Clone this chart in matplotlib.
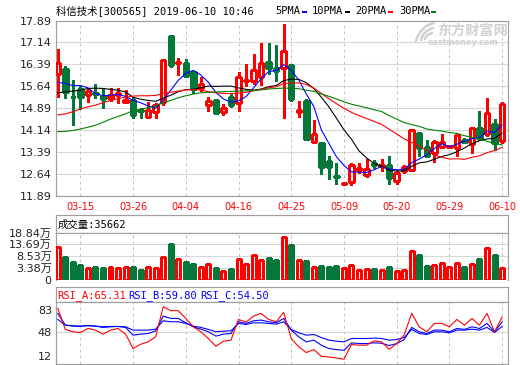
import matplotlib
matplotlib.use("Agg")
import matplotlib.pyplot as plt
import matplotlib.transforms as mtransforms
from matplotlib.patches import Rectangle, PathPatch
from matplotlib.path import Path

# ------------------------------------------------------------------ data
title_text = "科信技术[300565] 2019-06-10 10:46"
volume_title = "成交量:35662"
rsi_titles = ["RSI_A:65.31", "RSI_B:59.80", "RSI_C:54.50"]
ma_names = ["5PMA", "10PMA", "20PMA", "30PMA"]

dates = ["03-12", "03-13", "03-14", "03-15", "03-18", "03-19", "03-20", "03-21", "03-22", "03-25",
         "03-26", "03-27", "03-28", "03-29", "04-01", "04-02", "04-03", "04-04", "04-08", "04-09",
         "04-10", "04-11", "04-12", "04-15", "04-16", "04-17", "04-18", "04-19", "04-22", "04-23",
         "04-24", "04-25", "04-26", "04-29", "04-30", "05-06", "05-07", "05-08", "05-09", "05-10",
         "05-13", "05-14", "05-15", "05-16", "05-17", "05-20", "05-21", "05-22", "05-23", "05-24",
         "05-27", "05-28", "05-29", "05-30", "05-31", "06-03", "06-04", "06-05", "06-06", "06-10"]
date_ticks = ["03-15", "03-26", "04-04", "04-16", "04-25", "05-09", "05-20", "05-29", "06-10"]

opens = [16.04, 16.22, 15.28, 15.53, 15.33, 15.41, 15.30, 15.25, 15.33, 15.10,
         15.18, 14.81, 14.58, 14.76, 15.08, 17.35, 16.45, 16.43, 16.11, 15.59,
         14.99, 15.16, 14.77, 15.28, 15.05, 15.81, 15.82, 15.94, 16.47, 16.26,
         16.25, 16.36, 14.77, 15.13, 13.73, 13.68, 13.07, 12.56, 12.27, 12.36,
         12.78, 12.61, 13.01, 12.89, 12.95, 12.40, 12.73, 12.75, 14.02, 13.55,
         13.36, 13.56, 13.55, 13.53, 13.80, 13.64, 14.19, 13.99, 14.33, 13.76]
highs = [16.90, 16.34, 15.84, 15.65, 15.59, 15.73, 15.59, 15.56, 15.56, 15.50,
         15.27, 14.88, 15.08, 15.07, 16.56, 17.37, 16.59, 16.57, 16.17, 15.97,
         15.28, 15.16, 15.02, 15.36, 16.12, 16.39, 16.74, 17.12, 17.12, 17.05,
         17.77, 16.36, 15.13, 15.19, 14.47, 13.68, 13.26, 12.99, 12.34, 12.99,
         13.01, 13.13, 13.10, 13.13, 13.26, 12.73, 12.92, 14.12, 14.02, 13.81,
         13.81, 13.99, 13.62, 13.99, 13.86, 14.25, 14.79, 15.25, 14.50, 15.08]
lows = [15.26, 15.25, 14.30, 14.87, 15.10, 15.24, 14.90, 15.13, 15.07, 15.07,
        14.56, 14.55, 14.57, 14.54, 15.00, 16.28, 16.02, 15.97, 15.40, 15.48,
        14.79, 14.67, 14.65, 14.94, 14.78, 15.65, 15.73, 15.68, 16.05, 15.82,
        14.54, 15.13, 14.59, 13.79, 13.68, 12.63, 12.44, 12.30, 12.26, 12.24,
        12.67, 12.52, 12.84, 12.73, 12.30, 12.29, 12.67, 12.73, 13.24, 13.22,
        13.03, 13.53, 13.52, 13.24, 13.70, 13.36, 13.81, 13.93, 13.45, 13.70]
closes = [16.45, 15.44, 15.26, 15.27, 15.48, 15.37, 15.19, 15.33, 15.40, 15.18,
          14.65, 14.78, 14.81, 15.00, 16.55, 16.37, 16.47, 15.99, 15.53, 15.73,
          15.13, 14.71, 14.90, 14.99, 15.97, 15.84, 16.19, 16.45, 16.26, 16.17,
          16.83, 15.19, 14.82, 13.84, 14.01, 12.86, 12.86, 12.54, 12.33, 12.93,
          12.83, 12.81, 12.95, 12.93, 12.50, 12.67, 12.86, 14.12, 13.53, 13.24,
          13.73, 13.73, 13.58, 13.95, 13.74, 14.19, 13.87, 14.73, 13.70, 15.04]

ma5 = [15.77, 15.74, 15.66, 15.66, 15.58, 15.38, 15.31, 15.33, 15.35, 15.29,
       15.15, 15.07, 14.96, 14.88, 15.16, 15.50, 15.84, 16.08, 16.18, 16.02,
       15.77, 15.42, 15.20, 15.09, 15.14, 15.28, 15.58, 15.89, 16.14, 16.18,
       16.38, 16.18, 15.85, 15.37, 14.94, 14.14, 13.68, 13.22, 12.92, 12.70,
       12.69, 12.68, 12.77, 12.89, 12.80, 12.77, 12.78, 13.02, 13.14, 13.28,
       13.50, 13.67, 13.56, 13.65, 13.75, 13.84, 13.87, 14.10, 14.05, 14.31]
ma10 = [15.41, 15.44, 15.47, 15.50, 15.56, 15.57, 15.56, 15.53, 15.50, 15.44,
        15.26, 15.19, 15.15, 15.12, 15.23, 15.33, 15.45, 15.52, 15.53, 15.59,
        15.64, 15.63, 15.64, 15.64, 15.58, 15.53, 15.50, 15.54, 15.62, 15.66,
        15.83, 15.88, 15.87, 15.76, 15.56, 15.26, 14.93, 14.54, 14.14, 13.82,
        13.42, 13.18, 12.99, 12.90, 12.75, 12.73, 12.73, 12.89, 13.01, 13.04,
        13.13, 13.23, 13.29, 13.39, 13.52, 13.67, 13.77, 13.83, 13.85, 14.03]
ma20 = [14.65, 14.69, 14.76, 14.86, 14.93, 14.99, 15.07, 15.15, 15.21, 15.26,
        15.30, 15.31, 15.31, 15.32, 15.40, 15.43, 15.47, 15.51, 15.52, 15.51,
        15.45, 15.41, 15.39, 15.38, 15.40, 15.43, 15.48, 15.53, 15.58, 15.62,
        15.73, 15.75, 15.75, 15.70, 15.57, 15.39, 15.21, 15.04, 14.88, 14.74,
        14.63, 14.53, 14.43, 14.33, 14.16, 14.00, 13.83, 13.71, 13.58, 13.43,
        13.28, 13.20, 13.14, 13.15, 13.13, 13.20, 13.25, 13.36, 13.43, 13.54]
ma30 = [14.08, 14.09, 14.12, 14.17, 14.23, 14.30, 14.40, 14.51, 14.60, 14.69,
        14.80, 14.85, 14.90, 14.96, 15.07, 15.15, 15.24, 15.31, 15.37, 15.41,
        15.43, 15.44, 15.45, 15.46, 15.47, 15.48, 15.49, 15.51, 15.54, 15.56,
        15.57, 15.57, 15.55, 15.50, 15.46, 15.37, 15.29, 15.20, 15.10, 15.02,
        14.96, 14.90, 14.83, 14.77, 14.63, 14.51, 14.39, 14.32, 14.26, 14.17,
        14.13, 14.10, 14.05, 14.02, 13.94, 13.89, 13.81, 13.75, 13.67, 13.63]

volume_wan = [12.48, 8.42, 6.24, 4.79, 3.34, 4.07, 3.63, 3.78, 3.49, 3.93,
              3.93, 2.62, 3.78, 3.49, 8.13, 13.93, 7.26, 6.10, 5.23, 3.78,
              5.23, 3.49, 2.18, 2.91, 7.26, 5.23, 9.00, 6.97, 7.98, 6.97,
              16.83, 13.49, 6.97, 6.53, 3.78, 4.36, 3.93, 4.36, 3.34, 4.65,
              2.62, 3.06, 3.06, 2.62, 3.93, 2.18, 2.62, 10.88, 9.14, 4.36,
              4.65, 5.52, 3.78, 5.52, 3.78, 5.08, 7.26, 12.04, 9.14, 3.57]

rsi_a = [75.4, 51.2, 48.5, 47.7, 52.3, 50.4, 45.8, 50.4, 52.3, 45.8,
         29.3, 34.2, 36.9, 42.7, 77.3, 72.7, 72.7, 63.8, 54.2, 48.5,
         40.8, 31.9, 37.7, 38.9, 62.7, 59.6, 66.5, 69.6, 62.7, 60.0,
         70.7, 40.8, 31.2, 24.7, 28.1, 20.4, 19.6, 18.5, 17.0, 33.9,
         33.1, 33.1, 38.1, 36.9, 28.5, 35.0, 45.0, 69.6, 54.2, 48.5,
         58.1, 58.1, 54.2, 62.7, 56.1, 63.8, 56.1, 69.6, 48.5, 65.31]
rsi_b = [69.6, 56.1, 55.0, 54.6, 55.8, 55.0, 53.5, 54.2, 54.6, 53.5,
         44.6, 45.8, 46.5, 49.6, 66.5, 63.8, 63.8, 58.8, 54.2, 51.5,
         48.5, 43.5, 45.8, 46.5, 60.0, 58.1, 61.1, 61.9, 60.0, 58.8,
         63.8, 50.4, 42.7, 36.9, 38.9, 33.1, 29.3, 28.1, 27.3, 35.8,
         35.0, 35.0, 35.8, 35.4, 32.7, 35.0, 39.6, 53.5, 48.5, 46.5,
         50.4, 50.4, 48.5, 52.3, 51.2, 54.2, 52.3, 58.1, 48.5, 59.80]
rsi_c = [62.7, 56.1, 55.4, 55.0, 55.4, 55.0, 54.2, 54.6, 54.6, 54.2,
         50.4, 50.4, 50.4, 51.5, 61.1, 60.0, 60.0, 58.1, 55.0, 53.5,
         51.2, 48.5, 49.2, 49.6, 58.1, 56.9, 58.8, 58.8, 58.1, 57.3,
         60.0, 51.2, 47.3, 44.6, 45.4, 41.9, 38.9, 37.7, 36.9, 40.8,
         40.8, 40.8, 41.2, 40.8, 38.9, 39.6, 41.9, 51.2, 46.5, 45.4,
         48.5, 48.5, 47.3, 50.4, 50.4, 51.5, 50.4, 53.5, 47.7, 54.50]

price_ticks = [11.89, 12.64, 13.39, 14.14, 14.89, 15.64, 16.39, 17.14, 17.89]
vol_ticks = [3.38, 8.53, 13.69, 18.84]
rsi_ticks = [12, 48, 83]

# ------------------------------------------------------------------ style
W, H, DPI = 520, 365, 100
RED = "#ff0000"
GREEN = "#06773b"
FRAME = "#a0a0a0"
GRID = "#d8d8d8"
VGRID = "#c4c4c4"
WM = "#d2d2d2"
PX = 72.0 / DPI          # one pixel in points
MONO_CJK = ["DejaVu Sans Mono", "Noto Sans CJK SC"]
SANS_CJK = ["DejaVu Sans", "Noto Sans CJK SC"]

fig = plt.figure(figsize=(W / DPI, H / DPI), dpi=DPI)
fig.patch.set_facecolor("white")


def prect(l, t, r, b):
    return [l / W, 1 - b / H, (r - l) / W, (b - t) / H]


def ftext(px, py, s, **kw):
    return fig.text(px / W, 1 - py / H, s, **kw)


L, R = 55.5, 508.3
first_px, slot_px = 57.8, 7.53
n = len(closes)
xs = list(range(n))
XLIM = ((L - first_px) / slot_px, (R - first_px) / slot_px)
tick_idx = [dates.index(d) for d in date_ticks]


def base_style(ax):
    ax.set_xlim(*XLIM)
    ax.set_facecolor("white")
    for s in ax.spines.values():
        s.set_color(FRAME)
        s.set_linewidth(PX * 1.2)
    ax.tick_params(length=0, labelsize=8, colors="#222222")
    ax.set_xticks(tick_idx)
    ax.grid(axis="x", color=VGRID, ls=(0, (3, 3)), lw=PX, zorder=0)


body_w = 0.72 - 1.0 / slot_px
bar_w = 0.66 - 1.0 / slot_px

# ------------------------------------------------------------------ main K-line panel
axm = fig.add_axes(prect(L, 20.5, R, 195.5))
base_style(axm)
axm.set_ylim(price_ticks[0], price_ticks[-1])
axm.set_yticks(price_ticks)
axm.set_yticklabels([f"{v:.2f}" for v in price_ticks])
axm.tick_params(axis="y", pad=3.6 * PX)
for v in price_ticks[1:-1]:
    axm.axhline(v, color=GRID, lw=PX * 1.2, zorder=0)
axm.set_xticklabels(date_ticks, color=RED, fontsize=7)
axm.tick_params(axis="x", pad=6.5 * PX)

for i in xs:
    up = closes[i] >= opens[i]
    c = RED if up else GREEN
    axm.vlines(i, lows[i], highs[i], color=c, lw=PX * 1.1, zorder=2, antialiased=False)
    bot = min(opens[i], closes[i])
    h = max(abs(closes[i] - opens[i]), 0.01)
    axm.add_patch(Rectangle((i - body_w / 2, bot), body_w, h,
                            facecolor="white" if up else c, edgecolor=c,
                            lw=PX * 1.1, zorder=3, antialiased=False))

for vals, col in zip([ma5, ma10, ma20, ma30], ["#0000ff", "#000000", "#ff0000", "#008000"]):
    axm.plot(xs, vals, color=col, lw=PX * 1.1, zorder=4, antialiased=True)

# ------------------------------------------------------------------ volume panel
axvh = fig.add_axes(prect(L, 215, R, 232.5))
axvh.set_xticks([]); axvh.set_yticks([])
for s in axvh.spines.values():
    s.set_color(FRAME); s.set_linewidth(PX * 1.2)

axv = fig.add_axes(prect(L, 232.5, R, 280))
base_style(axv)
vol_step = vol_ticks[1] - vol_ticks[0]
vol_bottom = vol_ticks[0] - vol_step
axv.set_ylim(vol_bottom, vol_ticks[-1])
axv.spines["bottom"].set_visible(False)
axv.set_yticks([vol_bottom] + vol_ticks)
axv.set_yticklabels(["0"] + [f"{v:.2f}万" for v in vol_ticks], family=SANS_CJK)
axv.tick_params(axis="y", pad=3.8 * PX)
axv.tick_params(axis="x", labelbottom=False)
for v in vol_ticks[:-1]:
    axv.axhline(v, color=GRID, lw=PX * 1.2, zorder=0)
for i in xs:
    up = closes[i] >= opens[i]
    c = RED if up else GREEN
    axv.bar(i, volume_wan[i] - vol_bottom, bottom=vol_bottom, width=bar_w,
            facecolor="white" if up else c, edgecolor=c, lw=PX * 1.1,
            zorder=3, antialiased=False)

# ------------------------------------------------------------------ RSI panel
axrh = fig.add_axes(prect(L, 287.3, R, 301.7))
axrh.set_xticks([]); axrh.set_yticks([])
for s in axrh.spines.values():
    s.set_color(FRAME); s.set_linewidth(PX * 1.2)

axr = fig.add_axes(prect(L, 301.7, R, 363.6))
base_style(axr)
axr.set_ylim(rsi_ticks[0], rsi_ticks[-1])
axr.set_yticks(rsi_ticks)
axr.set_yticklabels([str(v) for v in rsi_ticks])
axr.tick_params(axis="y", pad=3.6 * PX)
axr.tick_params(axis="x", labelbottom=False)
axr.axhline(rsi_ticks[1], color=GRID, lw=PX * 1.2, zorder=0)
offs = {0: 7.3, 2: -8.3}
for k, lbl in enumerate(axr.get_yticklabels()):
    if k in offs:
        lbl.set_transform(lbl.get_transform() +
                          mtransforms.ScaledTranslation(0, offs[k] / DPI, fig.dpi_scale_trans))
axr.plot(xs, rsi_c, color="#0000ff", lw=PX * 1.1, zorder=3)
axr.plot(xs, rsi_b, color="#0000ff", lw=PX * 1.1, zorder=3)
axr.plot(xs, rsi_a, color="#ff0000", lw=PX * 1.1, zorder=4)

# ------------------------------------------------------------------ texts
ftext(56, 14, title_text, family=MONO_CJK, fontsize=7.5, va="baseline", color="#000000")

legend_x = [275, 311.7, 355.7, 399.3]
swatch_x = [301.7, 345, 388.3, 431]
for name, tx, sx, col in zip(ma_names, legend_x, swatch_x,
                             ["#0000ff", "#000000", "#ff0000", "#008000"]):
    ftext(tx, 14, name, family=MONO_CJK, fontsize=7.5, va="baseline", color="#000000")
    fig.patches.append(Rectangle((sx / W, 1 - 13.2 / H), 5 / W, 2.6 / H,
                                 transform=fig.transFigure, facecolor=col,
                                 edgecolor="none"))

# watermark (logo swoosh + name)
def fpt(px, py):
    return (px / W, 1 - py / H)

for (a, b, c2) in [((434, 23), (420, 26), (416, 41)),
                   ((433, 28), (423, 31), (421, 40)),
                   ((432, 33), (426, 35), (425, 39))]:
    p = Path([fpt(*a), fpt(*b), fpt(*c2)], [Path.MOVETO, Path.CURVE3, Path.CURVE3])
    fig.patches.append(PathPatch(p, transform=fig.transFigure, facecolor="none",
                                 edgecolor=WM, lw=2.6 * PX, capstyle="round"))

ftext(472.5, 35.2, "东方财富网", family=["Noto Sans CJK SC"], fontsize=10.2,
      fontweight="bold", color=WM, ha="center", va="baseline")
ftext(462.5, 45.0, "eastmoney.com", family=["DejaVu Sans"], fontsize=5.8,
      fontweight="bold", color=WM, ha="center", va="baseline")

ftext(57.3, 227.5, volume_title, family=MONO_CJK, fontsize=7.5, va="baseline", color="#000000")

for s, tx, col in zip(rsi_titles, [57, 128.3, 200.7], ["#ff0000", "#0000ff", "#0000ff"]):
    ftext(tx, 298, s, family=MONO_CJK, fontsize=7.5, va="baseline", color=col)

fig.savefig("out.png", dpi=DPI, facecolor="white")
